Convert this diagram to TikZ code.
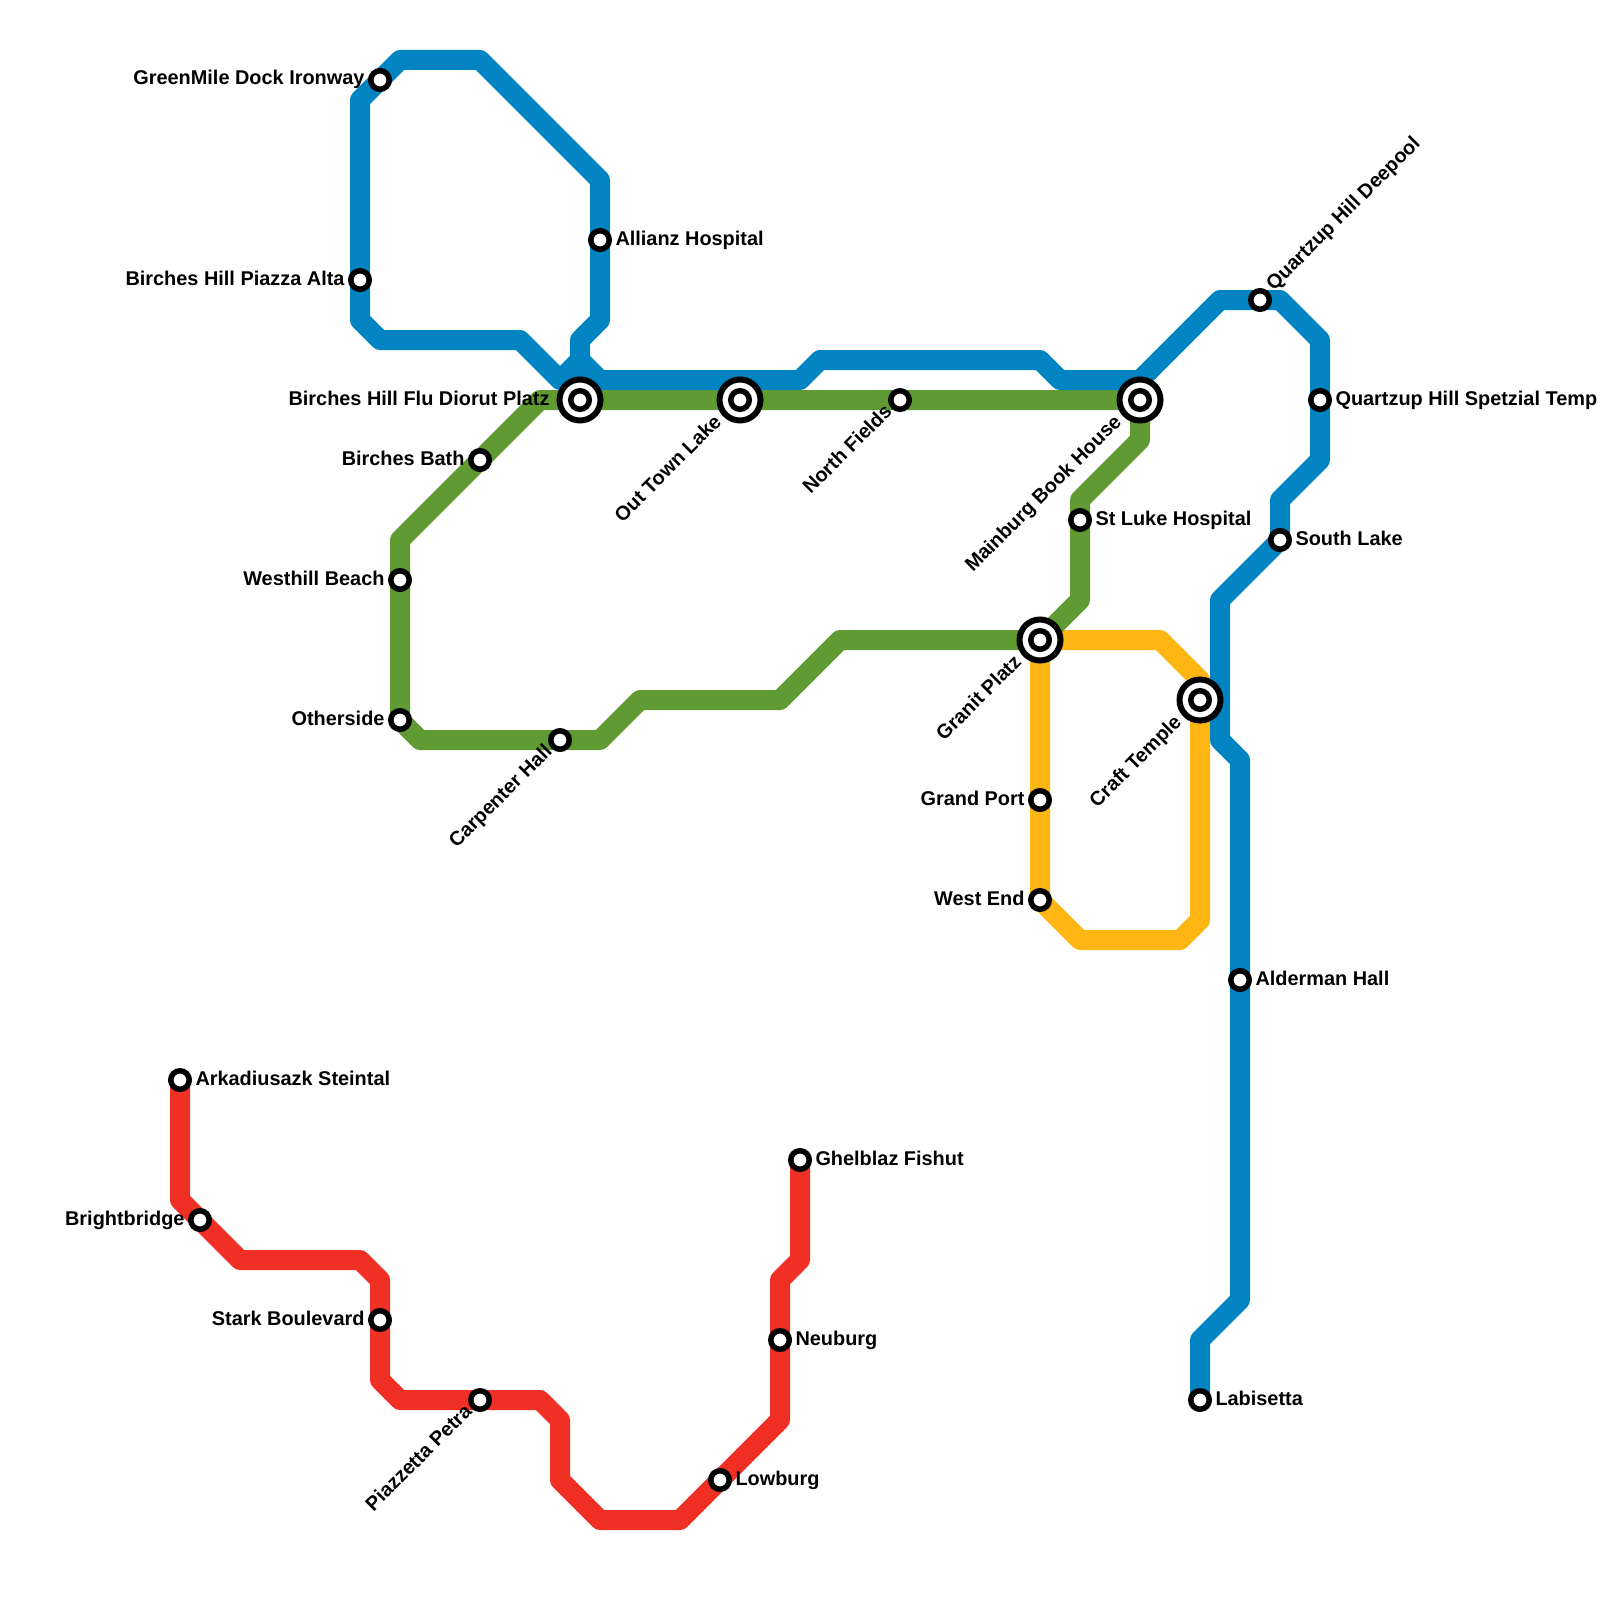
\documentclass[tikz,border=0pt]{standalone}
\usepackage{fontspec}
\setmainfont{Liberation Sans}[BoldFont={Liberation Sans Bold}]
\definecolor{lblue}{HTML}{0283C2}
\definecolor{lgreen}{HTML}{5F9A32}
\definecolor{lyellow}{HTML}{FFB612}
\definecolor{lred}{HTML}{F02F25}
\tikzset{
  metro/.style={line width=20pt,line join=round,line cap=butt},
  stn/.style={circle,draw=black,fill=white,line width=5.5pt,minimum size=18.5pt,inner sep=0pt,outer sep=0pt},
  ring/.style={circle,draw=black,fill=white,line width=6pt,minimum size=41pt,inner sep=0pt,outer sep=0pt},
  lbl/.style={font=\fontsize{19.9}{22}\selectfont\bfseries,inner sep=0pt,outer sep=0pt,text=black},
  lr/.style={lbl,anchor=base west,xshift=15.5pt,yshift=-5pt},
  ll/.style={lbl,anchor=base east,xshift=-15.5pt,yshift=-5pt},
  lil/.style={lbl,anchor=base east,xshift=-30.5pt,yshift=-5pt},
  ld/.style={lbl,anchor=base east,rotate=45,xshift=-14pt,yshift=-4pt},
  lid/.style={lbl,anchor=base east,rotate=45,xshift=-29pt,yshift=-4pt},
  lu/.style={lbl,anchor=base west,rotate=45,xshift=16pt,yshift=-4pt},
}
\begin{document}
\begin{tikzpicture}[x=1pt,y=-1pt]
\useasboundingbox (0,0) rectangle (1600,1600);
% station positions
\coordinate (green) at (380,80);
\coordinate (piazza) at (360,280);
\coordinate (allianz) at (600,240);
\coordinate (flu) at (580,400);
\coordinate (bath) at (480,460);
\coordinate (westhill) at (400,580);
\coordinate (other) at (400,720);
\coordinate (carp) at (560,740);
\coordinate (outtown) at (740,400);
\coordinate (north) at (900,400);
\coordinate (main) at (1140,400);
\coordinate (luke) at (1080,520);
\coordinate (granit) at (1040,640);
\coordinate (gport) at (1040,800);
\coordinate (west) at (1040,900);
\coordinate (craft) at (1200,700);
\coordinate (deep) at (1260,300);
\coordinate (spet) at (1320,400);
\coordinate (south) at (1280,540);
\coordinate (alder) at (1240,980);
\coordinate (labi) at (1200,1400);
\coordinate (arka) at (180,1080);
\coordinate (bright) at (200,1220);
\coordinate (stark) at (380,1320);
\coordinate (petra) at (480,1400);
\coordinate (low) at (720,1480);
\coordinate (neu) at (780,1340);
\coordinate (ghel) at (800,1160);
% lines
\draw[metro,lyellow] (granit) -- (1160,640) -- (1200,680) -- (craft) -- (1200,920) -- (1180,940) -- (1080,940) -- (west) -- (gport) -- (granit);
\draw[metro,lgreen] (main) -- (1140,440) -- (1080,500) -- (luke) -- (1080,600) -- (granit) -- (840,640) -- (780,700) -- (640,700) -- (600,740) -- (carp) -- (420,740) -- (other) -- (westhill) -- (400,540) -- (bath) -- (540,400) -- (flu) -- (outtown) -- (north) -- (main);
\draw[metro,lblue] (labi) -- (1200,1340) -- (1240,1300) -- (alder) -- (1240,760) -- (1220,740) -- (1220,600) -- (south) -- (1280,500) -- (1320,460) -- (spet) -- (1320,340) -- (1280,300) -- (deep) -- (1220,300) -- (1140,380) -- (1060,380) -- (1040,360) -- (820,360) -- (800,380) -- (600,380) -- (580,360) -- (580,340) -- (600,320) -- (allianz) -- (600,180) -- (480,60) -- (400,60) -- (green) -- (360,100) -- (piazza) -- (360,320) -- (380,340) -- (520,340) -- (560,380) -- (580,360);
\draw[metro,lblue] (560,380) -- (600,380);
\draw[metro,lblue,line cap=butt] (580,360) -- (580,385);
\draw[metro,lred] (arka) -- (180,1200) -- (bright) -- (240,1260) -- (360,1260) -- (380,1280) -- (stark) -- (380,1380) -- (400,1400) -- (petra) -- (540,1400) -- (560,1420) -- (560,1480) -- (600,1520) -- (680,1520) -- (low) -- (780,1420) -- (neu) -- (780,1280) -- (800,1260) -- (ghel);
% stations
\node[stn] (sGreen) at (green) {};
\node[stn] (sPiazza) at (piazza) {};
\node[stn] (sAllianz) at (allianz) {};
\node[ring] (sFlu) at (flu) {}; \node[stn] (sFluI) at (flu) {};
\node[stn] (sBath) at (bath) {};
\node[stn] (sWesthill) at (westhill) {};
\node[stn] (sOther) at (other) {};
\node[stn] (sCarp) at (carp) {};
\node[ring] (sOut) at (outtown) {}; \node[stn] (sOutI) at (outtown) {};
\node[stn] (sNorth) at (north) {};
\node[ring] (sMain) at (main) {}; \node[stn] (sMainI) at (main) {};
\node[stn] (sLuke) at (luke) {};
\node[ring] (sGranit) at (granit) {}; \node[stn] (sGranitI) at (granit) {};
\node[stn] (sGport) at (gport) {};
\node[stn] (sWest) at (west) {};
\node[ring] (sCraft) at (craft) {}; \node[stn] (sCraftI) at (craft) {};
\node[stn] (sDeep) at (deep) {};
\node[stn] (sSpet) at (spet) {};
\node[stn] (sSouth) at (south) {};
\node[stn] (sAlder) at (alder) {};
\node[stn] (sLabi) at (labi) {};
\node[stn] (sArka) at (arka) {};
\node[stn] (sBright) at (bright) {};
\node[stn] (sStark) at (stark) {};
\node[stn] (sPetra) at (petra) {};
\node[stn] (sLow) at (low) {};
\node[stn] (sNeu) at (neu) {};
\node[stn] (sGhel) at (ghel) {};
% labels
\node[ll] (tGreen) at (green) {GreenMile Dock Ironway};
\node[ll] (tPiazza) at (piazza) {Birches Hill Piazza Alta};
\node[lr] (tAllianz) at (allianz) {Allianz Hospital};
\node[lil] (tFlu) at (flu) {Birches Hill Flu Diorut Platz};
\node[ll] (tBath) at (bath) {Birches Bath};
\node[ll] (tWesthill) at (westhill) {Westhill Beach};
\node[ll] (tOther) at (other) {Otherside};
\node[ld] (tCarp) at (carp) {Carpenter Hall};
\node[lid] (tOut) at (outtown) {Out Town Lake};
\node[ld] (tNorth) at (north) {North Fields};
\node[lid] (tMain) at (main) {Mainburg Book House};
\node[lr] (tLuke) at (luke) {St Luke Hospital};
\node[lid] (tGranit) at (granit) {Granit Platz};
\node[ll] (tGport) at (gport) {Grand Port};
\node[ll] (tWest) at (west) {West End};
\node[lid] (tCraft) at (craft) {Craft Temple};
\node[lu] (tDeep) at (deep) {Quartzup Hill Deepool};
\node[lr] (tSpet) at (spet) {Quartzup Hill Spetzial Temp};
\node[lr] (tSouth) at (south) {South Lake};
\node[lr] (tAlder) at (alder) {Alderman Hall};
\node[lr] (tLabi) at (labi) {Labisetta};
\node[lr] (tArka) at (arka) {Arkadiusazk Steintal};
\node[ll] (tBright) at (bright) {Brightbridge};
\node[ll] (tStark) at (stark) {Stark Boulevard};
\node[ld] (tPetra) at (petra) {Piazzetta Petra};
\node[lr] (tLow) at (low) {Lowburg};
\node[lr] (tNeu) at (neu) {Neuburg};
\node[lr] (tGhel) at (ghel) {Ghelblaz Fishut};
\end{tikzpicture}
\end{document}
